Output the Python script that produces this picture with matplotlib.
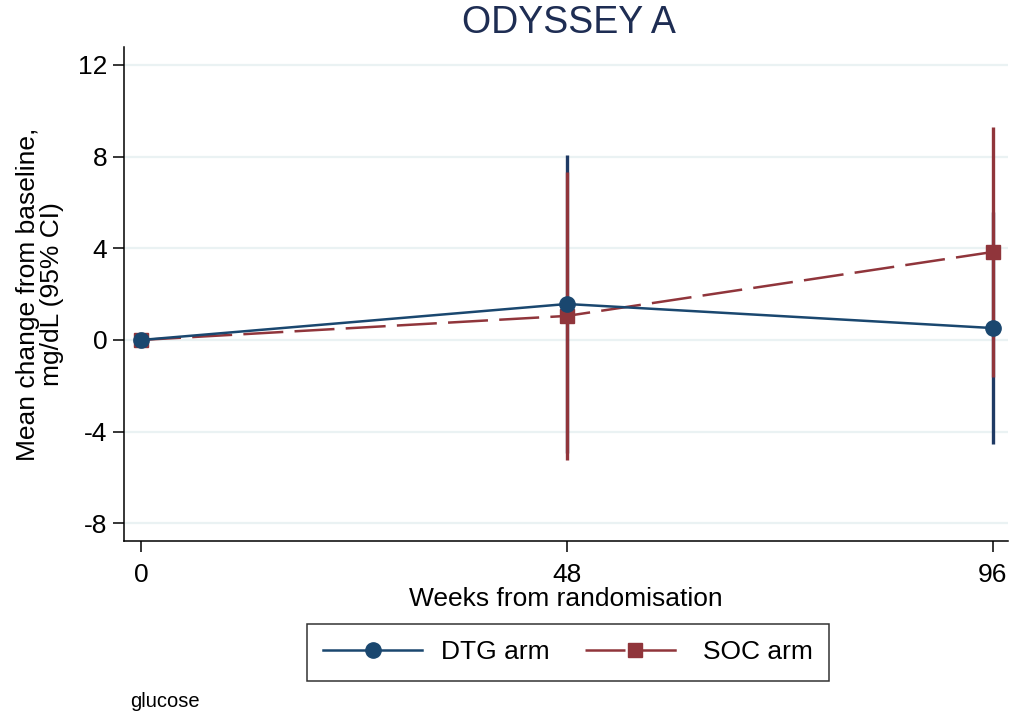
import matplotlib
matplotlib.use("Agg")
import matplotlib.pyplot as plt

plt.rcParams['font.family'] = ['Liberation Sans', 'DejaVu Sans']
plt.rcParams['axes.unicode_minus'] = False

weeks = [0, 48, 96]
week_ticks = [0, 48, 96]
y_ticks = [-8, -4, 0, 4, 8, 12]

dtg_mean = [0.0, 1.57, 0.52]
dtg_lo = [0.0, -4.93, -4.54]
dtg_hi = [0.0, 8.07, 5.58]

soc_mean = [0.0, 1.05, 3.84]
soc_lo = [0.0, -5.24, -1.61]
soc_hi = [0.0, 7.33, 9.29]

navy = '#1a476f'
navy_ci = '#1f3a64'
maroon = '#90353b'
grid_col = '#eaf2f3'

fig = plt.figure(figsize=(10.13, 7.18), dpi=100)
ax = fig.add_axes([0.1224, 0.2465, 0.8726, 0.688])

ax.set_xlim(-1.92, 97.7)
ax.set_ylim(-8.77, 12.78)

for y in y_ticks:
    ax.axhline(y, color=grid_col, lw=1.6, zorder=0)

# confidence intervals
ax.vlines(weeks[1:], dtg_lo[1:], dtg_hi[1:], color=navy_ci, lw=2.4, zorder=2)
ax.vlines(weeks[1:], soc_lo[1:], soc_hi[1:], color=maroon, lw=2.4, zorder=3)

ax.plot(weeks, soc_mean, color=maroon, lw=1.8, ls=(0, (16, 4.5)),
        marker='s', ms=10, mfc=maroon, mec=maroon, zorder=4, label='SOC arm')
ax.plot(weeks, dtg_mean, color=navy, lw=1.8, ls='-',
        marker='o', ms=11, mfc=navy, mec=navy, zorder=5, label='DTG arm')

ax.set_xticks(week_ticks)
ax.set_yticks(y_ticks)
ax.tick_params(axis='both', direction='out', length=8, width=1.1, labelsize=19)
ax.tick_params(axis='x', pad=7.5)
ax.tick_params(axis='y', pad=4)
for side in ('top', 'right'):
    ax.spines[side].set_visible(False)
for side in ('left', 'bottom'):
    ax.spines[side].set_linewidth(1.1)

ax.set_xlabel('Weeks from randomisation', fontsize=19, labelpad=0.5)
ax.set_ylabel('Mean change from baseline,\nmg/dL (95% CI)', fontsize=19, labelpad=10,
              linespacing=1.0)
fig.text(0.5615, 0.968, 'ODYSSEY A', fontsize=27, color='#1e2d53', ha='center', va='center')

handles, labels = ax.get_legend_handles_labels()
leg = fig.legend(handles[::-1], labels[::-1], loc='center', bbox_to_anchor=(0.5605, 0.0915),
                 ncol=2, fontsize=19, frameon=True, fancybox=False, edgecolor='black',
                 handlelength=3.75, handletextpad=0.7, columnspacing=1.36, borderpad=0.62)
leg.get_frame().set_linewidth(1.1)

fig.text(0.128, 0.015, 'glucose', fontsize=14.5)

fig.savefig('out.png', dpi=100)
